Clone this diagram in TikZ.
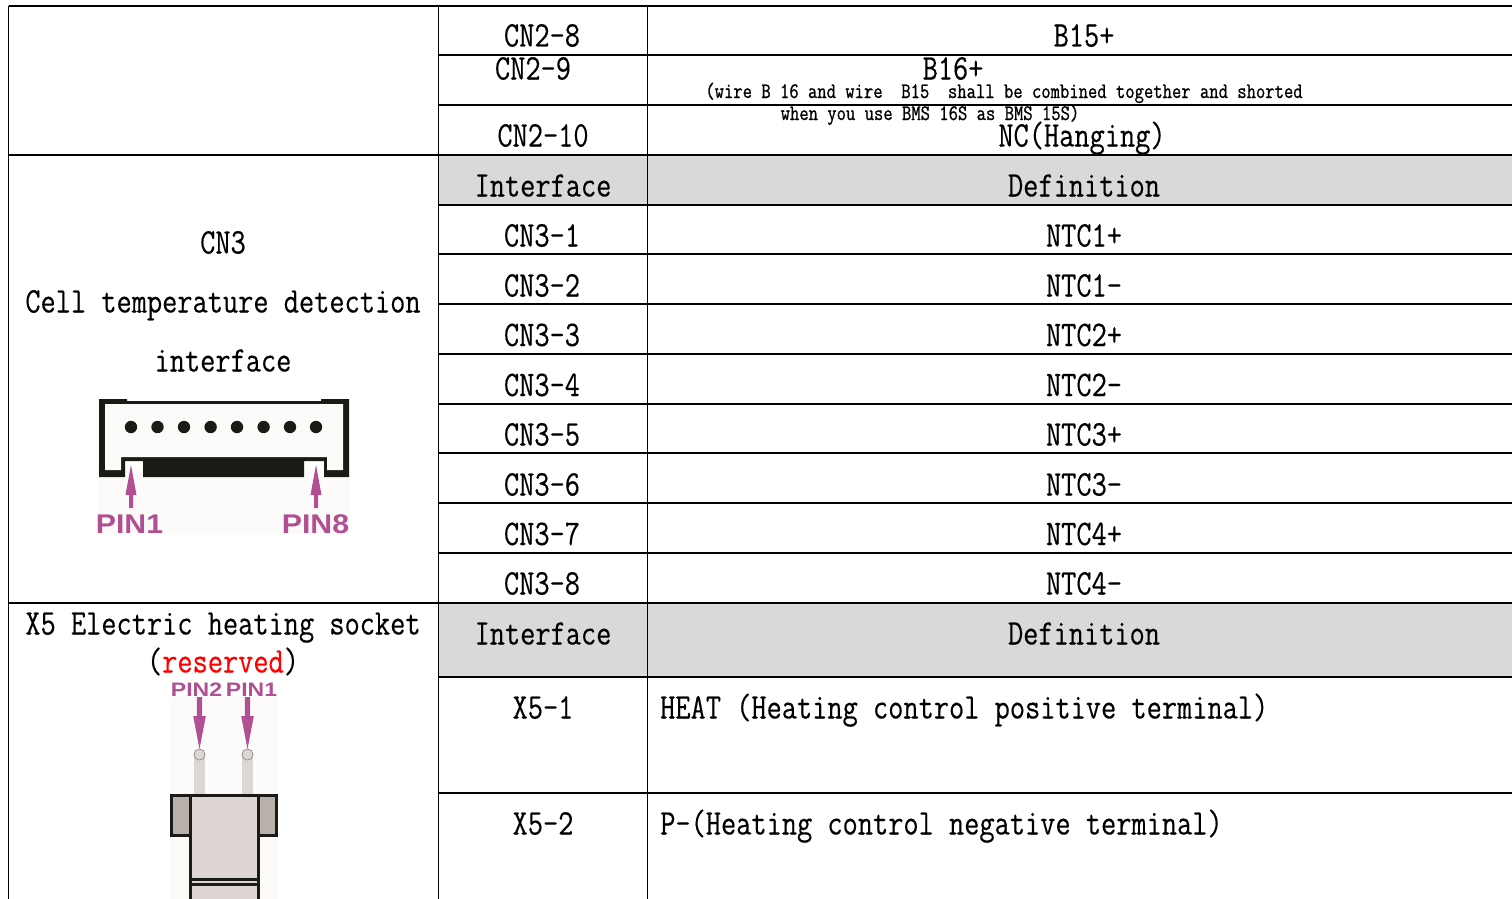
\documentclass[tikz,border=0pt]{standalone}
\usepackage{fontspec}
\newfontfamily\tm{Latin Modern Mono}[FakeStretch=0.82,FakeBold=0.3]
\newfontfamily\tms{Latin Modern Mono}[FakeStretch=0.82,FakeBold=0.9]
\setsansfont{Liberation Sans}
\definecolor{pinc}{HTML}{B04F92}
\definecolor{hdr}{HTML}{D9D9D9}
\definecolor{ivory}{HTML}{FDFBF9}
\definecolor{pinbody}{HTML}{DED6D3}
\definecolor{wing}{HTML}{B8B0AA}
\definecolor{ink}{HTML}{1A1A16}
\tikzset{
  grid/.style={draw=black,line width=1.3pt},
  txt/.style={inner sep=0pt,anchor=base,yshift=0.5pt,font=\fontsize{36}{36}\selectfont\tm},
  ltxt/.style={txt,anchor=base west},
  small/.style={inner sep=0pt,anchor=base,font=\fontsize{22.1}{22.1}\selectfont\tms},
  pinbig/.style={inner sep=0pt,anchor=base,text=pinc,xscale=1.12,font=\fontsize{27}{27}\sffamily\bfseries\selectfont},
  pinsmall/.style={inner sep=0pt,anchor=base,text=pinc,xscale=1.18,font=\fontsize{19.5}{19.5}\sffamily\bfseries\selectfont},
  arrowfill/.style={fill=pinc,draw=none},
}
\begin{document}
\begin{tikzpicture}[x=1pt,y=-1pt]
\useasboundingbox (0,0) rectangle (1512,899);
\fill[white] (0,0) rectangle (1512,899);
% header fills
\fill[hdr] (438,155) rectangle (1512,205);
\fill[hdr] (438,603) rectangle (1512,677);
% grid
\foreach \y in {6,155,603} \draw[grid] (8.5,\y) -- (1512,\y);
\foreach \y in {55,105,205,254,304,354,404,453,503,553,677,793} \draw[grid] (438.5,\y) -- (1512,\y);
\foreach \x in {8.5,438.5,647.5} \draw[grid] (\x,6) -- (\x,899);
% right column text
\node[txt] (a1) at (542,47) {CN2-8};
\node[txt] (b1) at (1084,47) {B15+};
\node[txt] (a2) at (533,80) {CN2-9};
\node[txt] (b2) at (953,80) {B16+};
\node[small] (s1) at (1004,98) {(wire B 16 and wire\ \ B15\ \ shall be combined together and shorted};
\node[small] (s2) at (930,120) {when you use BMS 16S as BMS 15S)};
\node[txt] (a3) at (543,147) {CN2-10};
\node[txt] (b3) at (1082,147) {NC(Hanging)};
\node[txt] (h1) at (543,197) {Interface};
\node[txt] (d1) at (1084,197) {Definition};
\node[txt] (c1) at (542,247) {CN3-1};
\node[txt] (n1) at (1084,247) {NTC1+};
\node[txt] (c2) at (542,297) {CN3-2};
\node[txt] (n2) at (1084,297) {NTC1-};
\node[txt] (c3) at (542,346.5) {CN3-3};
\node[txt] (n3) at (1084,346.5) {NTC2+};
\node[txt] (c4) at (542,396.5) {CN3-4};
\node[txt] (n4) at (1084,396.5) {NTC2-};
\node[txt] (c5) at (542,446) {CN3-5};
\node[txt] (n5) at (1084,446) {NTC3+};
\node[txt] (c6) at (542,496) {CN3-6};
\node[txt] (n6) at (1084,496) {NTC3-};
\node[txt] (c7) at (542,545.5) {CN3-7};
\node[txt] (n7) at (1084,545.5) {NTC4+};
\node[txt] (c8) at (542,595) {CN3-8};
\node[txt] (n8) at (1084,595) {NTC4-};
\node[txt] (h2) at (543,645) {Interface};
\node[txt] (d2) at (1084,645) {Definition};
\node[txt] (x1) at (543,719) {X5-1};
\node[ltxt] (y1) at (660,719) {HEAT (Heating control positive terminal)};
\node[txt] (x2) at (543,835) {X5-2};
\node[ltxt] (y2) at (660,835) {P-(Heating control negative terminal)};
% left column text
\node[txt] (l1) at (223,254) {CN3};
\node[txt] (l2) at (223,313) {Cell temperature detection};
\node[txt] (l3) at (223,372) {interface};
\node[txt] (l4) at (223,635) {X5 Electric heating socket};
\node[txt] (l5) at (223,673) {(\textcolor{red}{reserved})};
% CN3 connector
\fill[ivory] (97,470) rectangle (350,534);
\fill[ink] (99,399) -- (127,399) -- (127,401) -- (321,401) -- (321,399) -- (349,399) -- (349,477) -- (324,477) -- (324,461) -- (304,461) -- (304,477) -- (143,477) -- (143,461) -- (125,461) -- (125,477) -- (99,477) -- cycle;
\fill[ivory] (105,404) -- (343,404) -- (343,470) -- (327,470) -- (327,457) -- (121,457) -- (121,470) -- (105,470) -- cycle;
\foreach \x in {131,157.5,184,210.6,237,263.6,290,316} \fill[ink] (\x,427) circle (6.2);
\foreach \x in {131,316} \fill[arrowfill] (\x,465) -- (\x+5.5,495) -- (\x+2,495) -- (\x+2,508) -- (\x-2,508) -- (\x-2,495) -- (\x-5.5,495) -- cycle;
\node[pinbig] (p1) at (129.5,533) {PIN1};
\node[pinbig] (p8) at (315.5,533) {PIN8};
% X5 connector
\fill[ivory] (169,697) rectangle (278,899);
\node[pinsmall] (q2) at (196.5,696) {PIN2};
\node[pinsmall] (q1) at (251.5,696) {PIN1};
\foreach \x in {199.5,247.5} {
  \fill[arrowfill] (\x,749) -- (\x+6.3,716) -- (\x+2.6,716) -- (\x+2.6,697) -- (\x-2.6,697) -- (\x-2.6,716) -- (\x-6.3,716) -- cycle;
  \fill[pinbody] (\x-5.4,755) rectangle (\x+5.4,797);
  \draw[fill=pinbody,draw=gray,line width=0.6pt] (\x,754.5) circle (5.6);
}
\draw[draw=ink,fill=wing,line width=3pt] (171,795.5) rectangle (276.5,835);
\draw[draw=ink,fill=pinbody,line width=3pt] (190,899.5) -- (190,795.5) -- (258,795.5) -- (258,899.5);
\draw[draw=ink,line width=2.2pt] (190,879.5) -- (258,879.5);
\draw[draw=ink,line width=2.2pt] (190,884.5) -- (258,884.5);
\end{tikzpicture}
\end{document}
